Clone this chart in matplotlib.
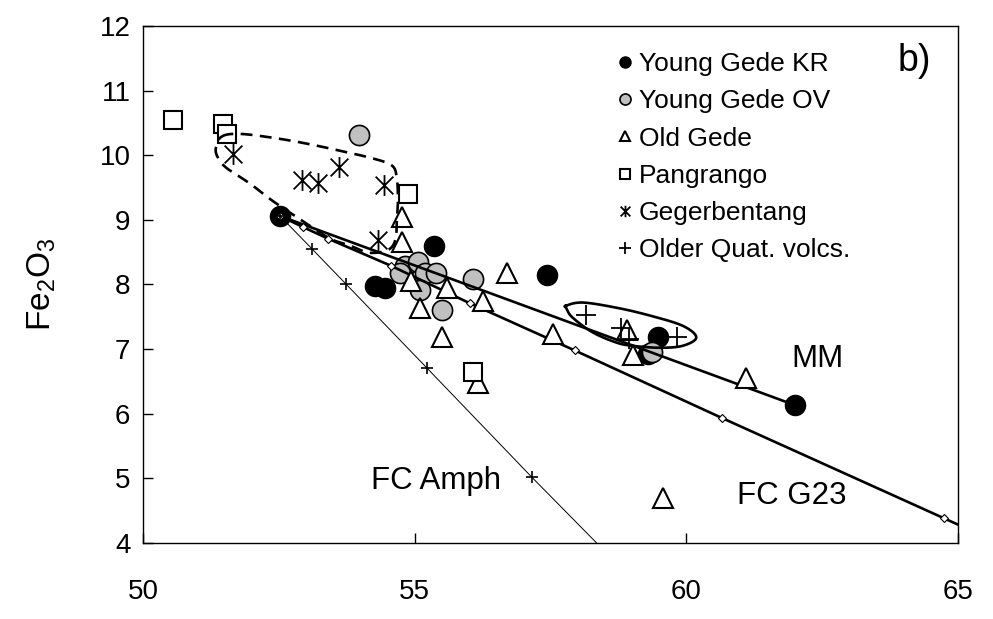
import numpy as np
import matplotlib
matplotlib.use("Agg")
import matplotlib.pyplot as plt
from matplotlib.path import Path

plt.rcParams['font.family'] = ['Liberation Sans', 'DejaVu Sans']
plt.rcParams['mathtext.fontset'] = 'custom'
plt.rcParams['mathtext.rm'] = 'Liberation Sans'

# --- samples: SiO2 (x) vs Fe2O3 (y) ---
kr_sio2 = [52.52, 54.26, 54.45, 55.35, 57.43, 59.30, 59.47, 62.00]
kr_fe = [9.06, 7.98, 7.95, 8.60, 8.14, 6.93, 7.18, 6.13]

ov_sio2 = [53.97, 54.82, 55.06, 54.72, 55.18, 55.39, 55.09, 55.50, 56.08, 59.36]
ov_fe = [10.31, 8.29, 8.34, 8.17, 8.17, 8.18, 7.91, 7.61, 8.09, 6.95]

og_sio2 = [54.76, 54.76, 54.94, 55.59, 55.09, 55.51, 56.16, 56.69, 56.25,
           57.54, 58.90, 59.01, 61.10, 59.56]
og_fe = [9.05, 8.66, 8.06, 7.95, 7.63, 7.18, 6.47, 8.17, 7.75,
         7.23, 7.29, 6.90, 6.55, 4.69]

pg_sio2 = [50.55, 51.47, 51.54, 54.87, 56.07]
pg_fe = [10.55, 10.49, 10.33, 9.40, 6.64]

gg_sio2 = [51.65, 52.92, 53.22, 53.60, 54.43, 54.32]
gg_fe = [10.02, 9.62, 9.57, 9.82, 9.54, 8.69]

oq_sio2 = [58.16, 58.80, 58.95, 59.83]
oq_fe = [7.53, 7.33, 7.16, 7.18]

# --- model curves ---
mm_sio2 = [52.52, 62.00]
mm_fe = [9.06, 6.13]

g23_sio2 = [52.52, 52.94, 53.40, 54.56, 56.01, 57.94, 60.66, 64.74, 65.50]
g23_fe = [9.06, 8.89, 8.71, 8.29, 7.71, 6.98, 5.93, 4.38, 4.09]

amph_sio2 = [52.52, 53.11, 53.73, 55.22, 57.15, 58.93]
amph_fe = [9.06, 8.55, 8.01, 6.71, 5.02, 3.50]

# outlines (closed)
env_sio2 = [51.45, 51.78, 52.39, 53.01, 53.62, 54.23, 54.58, 54.67, 54.69, 54.67,
            54.65, 54.52, 54.17, 53.81, 53.44, 52.94, 52.39, 51.97, 51.54, 51.38, 51.34]
env_fe = [10.29, 10.33, 10.27, 10.18, 10.07, 9.95, 9.84, 9.65, 9.30, 8.99,
          8.71, 8.54, 8.49, 8.60, 8.71, 8.98, 9.29, 9.56, 9.80, 9.96, 10.11]

oq_env_sio2 = [57.78, 58.09, 58.71, 59.32, 59.93, 60.18, 59.93, 59.50, 59.01,
               58.71, 58.27, 57.90, 57.79]
oq_env_fe = [7.67, 7.72, 7.64, 7.52, 7.36, 7.18, 7.05, 7.02, 7.05,
             7.10, 7.26, 7.49, 7.63]

x_ticks = [50, 55, 60, 65]
y_ticks = [4, 5, 6, 7, 8, 9, 10, 11, 12]


def smooth_closed(xs, ys, n=20):
    # closed Catmull-Rom spline through the outline points
    p = np.column_stack([xs, ys])
    k = len(p)
    out = []
    for i in range(k):
        p0, p1, p2, p3 = p[i - 1], p[i], p[(i + 1) % k], p[(i + 2) % k]
        t = np.linspace(0, 1, n, endpoint=False)[:, None]
        seg = 0.5 * ((2 * p1) + (-p0 + p2) * t
                     + (2 * p0 - 5 * p1 + 4 * p2 - p3) * t ** 2
                     + (-p0 + 3 * p1 - 3 * p2 + p3) * t ** 3)
        out.append(seg)
    out = np.vstack(out + [out[0][:1]])
    return out[:, 0], out[:, 1]


# six-armed star: vertical bar plus two diagonals (X)
star = Path([(0, -1), (0, 1),
             (-0.85, -0.85), (0.85, 0.85),
             (-0.85, 0.85), (0.85, -0.85)],
            [Path.MOVETO, Path.LINETO] * 3)

fig = plt.figure(figsize=(9.93, 6.19), dpi=100)
ax = fig.add_axes([0.144, 0.123, 0.821, 0.835])

h_kr, = ax.plot(kr_sio2, kr_fe, ls='none', marker='o', ms=14.5, mfc='black',
                mec='black', mew=1, zorder=2, label='Young Gede KR')
h_ov, = ax.plot(ov_sio2, ov_fe, ls='none', marker='o', ms=14.5, mfc='#c0c0c0',
                mec='black', mew=1.2, zorder=2.5, label='Young Gede OV')

ax.plot(mm_sio2, mm_fe, color='black', lw=1.9, zorder=3)
ax.plot(g23_sio2, g23_fe, color='black', lw=1.9, marker='D', ms=4,
        mfc='white', mec='black', mew=0.8, zorder=3)
ax.plot(amph_sio2, amph_fe, color='black', lw=0.7, marker='+', ms=8,
        mew=1.2, zorder=3)

h_og, = ax.plot(og_sio2, og_fe, ls='none', marker='^', ms=14, mfc='white',
                mec='black', mew=1.5, zorder=4, label='Old Gede')
h_pg, = ax.plot(pg_sio2, pg_fe, ls='none', marker='s', ms=12.5, mfc='white',
                mec='black', mew=1.5, zorder=4, label='Pangrango')
h_gg, = ax.plot(gg_sio2, gg_fe, ls='none', marker=star, ms=15, color='black',
                mew=1.3, zorder=4, label='Gegerbentang')
h_oq, = ax.plot(oq_sio2, oq_fe, ls='none', marker='+', ms=15, color='black',
                mew=1.3, zorder=4, label='Older Quat. volcs.')

ex, ey = smooth_closed(env_sio2, env_fe)
ax.plot(ex, ey, color='black', lw=1.9, ls=(0, (4.5, 2.8)), zorder=6)
ox, oy = smooth_closed(oq_env_sio2, oq_env_fe)
ax.plot(ox, oy, color='black', lw=1.9, zorder=5)

ax.text(55.39, 4.95, 'FC Amph', fontsize=22.5, ha='center', va='center')
ax.text(61.93, 4.72, 'FC G23', fontsize=22.5, ha='center', va='center')
ax.text(62.41, 6.85, 'MM', fontsize=22.5, ha='center', va='center')
ax.text(64.2, 11.46, 'b)', fontsize=27, ha='center', va='center')

ax.legend(handles=[h_kr, h_ov, h_og, h_pg, h_gg, h_oq], loc='upper left',
          bbox_to_anchor=(0.56, 0.985), frameon=False, fontsize=19,
          markerscale=0.55, handlelength=0.5, handletextpad=0.3,
          labelspacing=0.5, borderpad=0.2)

ax.set_xlim(50, 65)
ax.set_ylim(4, 12)
ax.set_xticks(x_ticks)
ax.set_yticks(y_ticks)
ax.tick_params(direction='in', length=7, width=1, labelsize=20)
ax.tick_params(axis='y', pad=9)
ax.tick_params(axis='x', pad=26)
for s in ax.spines.values():
    s.set_linewidth(1)

fig.text(42 / 993, 1 - 284 / 619, r'Fe$_\mathregular{2}$O$_\mathregular{3}$',
         rotation=90, fontsize=24, ha='center', va='center')

fig.savefig('out.png', dpi=100)
